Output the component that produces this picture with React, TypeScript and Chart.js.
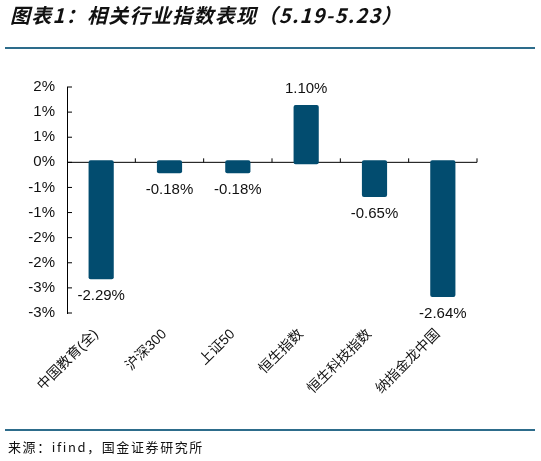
import { Chart, registerables } from 'chart.js';
import { useEffect, useRef } from 'react';

Chart.register(...registerables);

// 指数名称
const categories = ['中国教育(全)', '沪深300', '上证50', '恒生指数', '恒生科技指数', '纳指金龙中国'];
// 周涨跌幅（%）
const changes = [-2.29, -0.18, -0.18, 1.1, -0.65, -2.64];
// y 轴刻度范围
const yMin = -3;
const yMax = 1.5;
const yStep = 0.5;

const BAR_COLOR = '#024c6f';
const LINE_COLOR = '#2d6c8b';
const LATIN = "'Liberation Sans', 'Noto Sans CJK SC', sans-serif";

// 类似 Excel 的取整（0.5 远离零）
const fmtTick = (v: number) => {
  const r = Math.sign(v) * Math.round(Math.abs(v));
  return `${r === 0 ? 0 : r}%`;
};

// 零轴、刻度线与数据标签
const axisPlugin = {
  id: 'axisPlugin',
  beforeDatasetsDraw(chart: any) {
    const { ctx, chartArea, scales } = chart;
    const y0 = scales.y.getPixelForValue(0);
    ctx.save();
    ctx.strokeStyle = '#000';
    ctx.lineWidth = 1;
    ctx.beginPath();
    ctx.moveTo(chartArea.left, y0);
    ctx.lineTo(chartArea.right, y0);
    const w = (chartArea.right - chartArea.left) / categories.length;
    for (let k = 1; k <= categories.length; k++) {
      const x = chartArea.left + k * w;
      ctx.moveTo(x, y0);
      ctx.lineTo(x, y0 - 4);
    }
    scales.y.ticks.forEach((t: any) => {
      const y = scales.y.getPixelForValue(t.value);
      ctx.moveTo(chartArea.left, y);
      ctx.lineTo(chartArea.left + 5, y);
    });
    ctx.stroke();
    ctx.restore();
  },
  afterDatasetsDraw(chart: any) {
    const { ctx, scales } = chart;
    const meta = chart.getDatasetMeta(0);
    ctx.save();
    ctx.font = `15px ${LATIN}`;
    ctx.fillStyle = '#111';
    ctx.textAlign = 'center';
    ctx.textBaseline = 'middle';
    meta.data.forEach((bar: any, i: number) => {
      const v = changes[i];
      const y = scales.y.getPixelForValue(v) + (v >= 0 ? -18.5 : 18.5);
      ctx.fillText(`${v.toFixed(2)}%`, bar.x, y);
    });
    ctx.restore();
  },
};

export default function App() {
  const chartRef = useRef<HTMLCanvasElement>(null);
  const chartInstanceRef = useRef<Chart | null>(null);

  useEffect(() => {
    const ctx = chartRef.current!.getContext('2d');
    if (chartInstanceRef.current) {
      chartInstanceRef.current.destroy();
    }
    chartInstanceRef.current = new Chart(ctx!, {
      type: 'bar',
      data: {
        labels: categories,
        datasets: [
          {
            data: changes,
            backgroundColor: BAR_COLOR,
            borderWidth: 0,
            borderRadius: 2,
            borderSkipped: false,
            inflateAmount: 2,
            barPercentage: 0.31,
            categoryPercentage: 1,
          },
        ],
      },
      options: {
        responsive: false,
        animation: false,
        devicePixelRatio: 1,
        layout: { padding: { left: 7, top: 87, right: 64, bottom: 48 } },
        plugins: {
          legend: { display: false },
          tooltip: { enabled: false },
          title: { display: false },
        },
        scales: {
          x: {
            grid: { display: false, drawTicks: false },
            border: { display: false },
            afterFit: (s: any) => {
              s.height = 100;
            },
            ticks: {
              minRotation: 45,
              maxRotation: 45,
              autoSkip: false,
              padding: 13,
              labelOffset: -5,
              color: '#111',
              font: { family: LATIN, size: 14 },
            },
          },
          y: {
            min: yMin,
            max: yMax,
            grid: { display: false, drawTicks: false },
            border: { display: true, color: '#000', width: 1 },
            afterFit: (s: any) => {
              s.width = 60;
            },
            ticks: {
              stepSize: yStep,
              padding: 12,
              color: '#111',
              font: { family: LATIN, size: 15 },
              callback: (v: any) => fmtTick(Number(v)),
            },
          },
        },
      },
      plugins: [axisPlugin],
    });
    return () => {
      if (chartInstanceRef.current) {
        chartInstanceRef.current.destroy();
        chartInstanceRef.current = null;
      }
    };
  }, []);

  return (
    <div style={{ position: 'absolute', left: 0, top: 0, width: 541, height: 461, background: '#fff' }}>
      <canvas ref={chartRef} width={541} height={461} style={{ position: 'absolute', left: 0, top: 0 }}></canvas>
      <div
        style={{
          position: 'absolute',
          left: 10,
          top: 3,
          fontFamily: "'Noto Sans CJK SC', sans-serif",
          fontSize: 20,
          lineHeight: '24px',
          fontWeight: 'bold',
          fontStyle: 'italic',
          color: '#111',
          letterSpacing: 1.3,
          whiteSpace: 'nowrap',
        }}
      >
        图表1：相关行业指数表现（5.19-5.23）
      </div>
      <div style={{ position: 'absolute', left: 5, top: 47, width: 530, height: 2, background: LINE_COLOR }}></div>
      <div style={{ position: 'absolute', left: 5, top: 429, width: 530, height: 2, background: LINE_COLOR }}></div>
      <div
        style={{
          position: 'absolute',
          left: 8,
          top: 439,
          fontFamily: "'Noto Sans CJK SC', sans-serif",
          fontSize: 13,
          lineHeight: '16px',
          color: '#111',
          letterSpacing: 1.6,
          whiteSpace: 'nowrap',
        }}
      >
        来源：ifind，国金证券研究所
      </div>
    </div>
  );
}
